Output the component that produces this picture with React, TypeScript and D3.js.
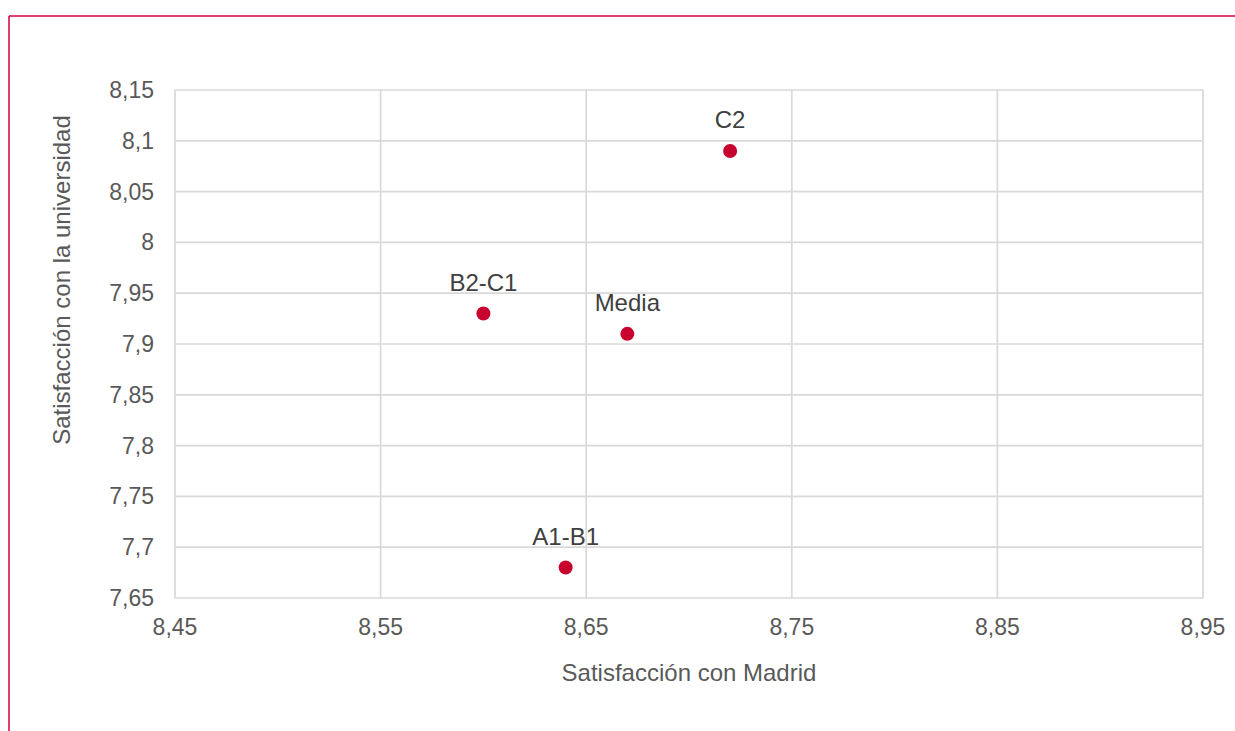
import React from "react";
import * as d3 from "d3";

const labels = ["C2", "B2-C1", "Media", "A1-B1"];
const madrid = [8.72, 8.6, 8.67, 8.64];
const universidad = [8.09, 7.93, 7.91, 7.68];
const xTicks = [8.45, 8.55, 8.65, 8.75, 8.85, 8.95];
const yTicks = [7.65, 7.7, 7.75, 7.8, 7.85, 7.9, 7.95, 8, 8.05, 8.1, 8.15];
const xTitle = "Satisfacción con Madrid";
const yTitle = "Satisfacción con la universidad";

const W = 1235;
const H = 731;
const fmt = (v: number) => String(+v.toFixed(2)).replace(".", ",");

export default function App() {
  const x = d3.scaleLinear().domain([8.45, 8.95]).range([175, 1203]);
  const y = d3.scaleLinear().domain([7.65, 8.15]).range([598, 90]);
  const font = "'Liberation Sans', Arial, sans-serif";
  const txt = "#595959";
  return (
    <svg
      width={W}
      height={H}
      style={{ position: "absolute", left: 0, top: 0, background: "#fff" }}
      fontFamily={font}
    >
      <line x1={9} y1={16} x2={W} y2={16} stroke="#d6003f" strokeWidth={1.5} />
      <line x1={9} y1={16} x2={9} y2={H} stroke="#d6003f" strokeWidth={1.5} />
      {yTicks.map((t) => (
        <line key={"gy" + t} x1={175} x2={1203} y1={y(t)} y2={y(t)} stroke="#d9d9d9" strokeWidth={1.7} />
      ))}
      {xTicks.map((t) => (
        <line key={"gx" + t} x1={x(t)} x2={x(t)} y1={90} y2={598} stroke="#d9d9d9" strokeWidth={1.7} />
      ))}
      {yTicks.map((t) => (
        <text key={"ty" + t} x={154} y={y(t)} dy="0.35em" textAnchor="end" fontSize={23} fill={txt}>
          {fmt(t)}
        </text>
      ))}
      {xTicks.map((t) => (
        <text key={"tx" + t} x={x(t)} y={627} dy="0.35em" textAnchor="middle" fontSize={23} fill={txt}>
          {fmt(t)}
        </text>
      ))}
      <text x={689} y={673} dy="0.35em" textAnchor="middle" fontSize={24} fill={txt}>
        {xTitle}
      </text>
      <text
        transform={`translate(62,280) rotate(-90)`}
        dy="0.35em"
        textAnchor="middle"
        fontSize={24}
        fill={txt}
      >
        {yTitle}
      </text>
      {labels.map((l, i) => (
        <g key={l}>
          <circle cx={x(madrid[i])} cy={y(universidad[i])} r={7} fill="#c8002e" />
          <text
            x={x(madrid[i])}
            y={y(universidad[i]) - 31}
            dy="0.35em"
            textAnchor="middle"
            fontSize={24}
            fill="#404040"
          >
            {l}
          </text>
        </g>
      ))}
    </svg>
  );
}
